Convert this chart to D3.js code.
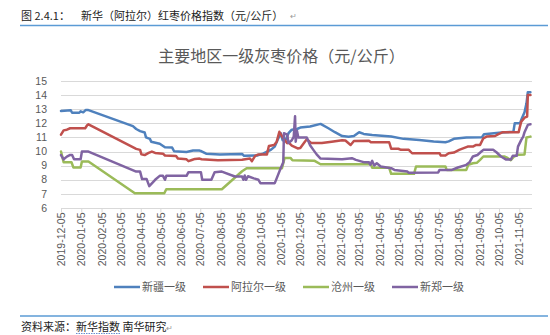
<!DOCTYPE html>
<html><head><meta charset="utf-8">
<script src="https://cdn.jsdelivr.net/npm/d3@7"></script>
<style>body{margin:0;background:#fff;} svg{display:block}</style>
</head><body><svg id="c" width="550" height="335"></svg>
<script>
const tickLabels = ["2019-12-05","2020-01-05","2020-02-05","2020-03-05","2020-04-05","2020-05-05","2020-06-05","2020-07-05","2020-08-05","2020-09-05","2020-10-05","2020-11-05","2020-12-05","2021-01-05","2021-02-05","2021-03-05","2021-04-05","2021-05-05","2021-06-05","2021-07-05","2021-08-05","2021-09-05","2021-10-05","2021-11-05"];
const yTicks = [6,7,8,9,10,11,12,13,14,15];
const seriesNames = ["新疆一级","阿拉尔一级","沧州一级","新郑一级"];
const seriesColors = ["#4F81BD","#C0504D","#9BBB59","#8064A2"];

const xinjiang = [
["2019-12-05",12.88],["2019-12-20",12.92],["2019-12-22",12.75],["2020-01-02",12.75],["2020-01-04",12.85],["2020-01-08",12.78],["2020-01-12",12.95],["2020-01-15",12.95],
["2020-03-24",11.8],["2020-03-29",11.6],["2020-04-04",11.45],["2020-04-11",11.35],["2020-04-13",11.0],["2020-04-19",10.9],["2020-04-21",10.7],["2020-05-04",10.55],["2020-05-12",10.3],["2020-05-23",10.28],["2020-05-26",10.02],["2020-06-14",9.97],["2020-06-24",10.07],["2020-07-04",10.07],["2020-07-07",10.02],["2020-07-14",9.85],["2020-08-04",9.8],["2020-09-07",9.83],["2020-09-10",9.7],["2020-09-30",9.72],["2020-10-09",9.85],["2020-10-20",10.1],["2020-10-27",10.35],["2020-11-01",10.9],["2020-11-05",11.3],["2020-11-08",10.8],["2020-11-13",10.85],["2020-11-17",11.3],["2020-11-22",11.55],["2020-11-30",11.6],["2020-12-05",11.7],["2020-12-20",11.77],
["2021-01-05",11.96],["2021-01-17",11.65],["2021-01-27",11.37],["2021-02-07",11.1],["2021-02-17",11.05],["2021-02-25",11.1],["2021-03-05",11.37],["2021-03-12",11.25],["2021-03-25",11.18],["2021-04-23",11.06],["2021-05-12",10.9],["2021-06-05",10.82],["2021-06-27",10.71],["2021-07-15",10.66],["2021-07-20",10.72],["2021-07-28",10.9],["2021-08-16",11.0],["2021-09-09",11.02],["2021-09-12",11.23],["2021-10-09",11.35],["2021-10-27",11.41],["2021-10-29",12.0],["2021-11-06",12.0],["2021-11-09",12.36],["2021-11-13",12.78],["2021-11-16",13.42],["2021-11-18",14.2],["2021-11-22",14.2]
];
const alaer = [
["2019-12-05",11.2],["2019-12-09",11.5],["2019-12-14",11.55],["2019-12-19",11.65],["2020-01-11",11.65],["2020-01-14",11.86],["2020-01-16",11.93],
["2020-03-29",10.19],["2020-04-04",10.12],["2020-04-06",9.8],["2020-04-11",9.75],["2020-04-17",9.9],["2020-04-22",10.0],["2020-04-27",9.9],["2020-05-09",9.85],["2020-05-12",9.72],["2020-05-29",9.68],["2020-06-01",9.5],["2020-06-14",9.45],["2020-06-17",9.32],["2020-06-22",9.4],["2020-06-27",9.48],["2020-07-04",9.5],["2020-07-07",9.46],["2020-08-01",9.38],["2020-09-07",9.42],["2020-09-19",9.5],["2020-09-22",9.32],["2020-09-27",9.7],["2020-10-02",9.8],["2020-10-15",9.8],["2020-10-18",10.4],["2020-10-26",10.47],["2020-10-30",10.7],["2020-11-03",11.4],["2020-11-09",10.94],["2020-11-15",10.6],["2020-11-17",10.65],["2020-11-22",10.42],["2020-12-01",10.22],["2020-12-05",10.25],["2020-12-12",10.7],["2020-12-15",10.87],["2020-12-22",10.6],
["2021-01-07",10.6],["2021-01-22",10.7],["2021-02-07",10.8],["2021-02-12",10.78],["2021-02-20",10.47],["2021-02-25",10.75],["2021-03-20",10.77],["2021-03-23",10.66],["2021-04-20",10.66],["2021-04-23",10.2],["2021-05-04",10.2],["2021-05-08",10.12],["2021-05-20",10.12],["2021-05-25",9.88],["2021-07-06",9.88],["2021-07-08",9.72],["2021-07-15",9.72],["2021-07-20",9.88],["2021-07-28",9.93],["2021-08-05",10.12],["2021-08-18",10.35],["2021-08-26",10.35],["2021-08-31",10.47],["2021-09-06",10.47],["2021-09-11",10.94],["2021-09-16",11.06],["2021-09-29",11.1],["2021-10-04",11.23],["2021-10-11",11.37],["2021-11-04",11.37],["2021-11-06",11.77],["2021-11-08",12.12],["2021-11-13",12.4],["2021-11-17",12.48],["2021-11-18",14.0],["2021-11-22",14.0]
];
const cangzhou = [
["2019-12-05",10.0],["2019-12-09",9.25],["2019-12-21",9.25],["2019-12-24",8.87],["2020-01-04",8.87],["2020-01-06",9.3],["2020-01-16",9.3],
["2020-03-27",7.05],["2020-05-11",7.05],["2020-05-14",7.33],["2020-08-07",7.33],["2020-09-07",8.6],["2020-09-14",8.82],["2020-11-07",8.82],["2020-11-11",9.55],["2020-11-20",9.55],["2020-11-23",9.38],["2020-12-27",9.34],
["2021-01-05",9.1],["2021-03-23",9.1],["2021-03-25",8.85],["2021-04-20",8.85],["2021-04-23",8.42],["2021-05-28",8.42],["2021-05-31",8.94],["2021-07-15",8.94],["2021-07-17",8.7],["2021-08-16",8.7],["2021-08-19",9.06],["2021-08-26",9.17],["2021-09-01",9.2],["2021-09-06",9.41],["2021-09-11",9.65],["2021-10-13",9.65],["2021-10-18",9.55],["2021-10-23",9.38],["2021-10-28",9.65],["2021-11-04",9.78],["2021-11-13",9.8],["2021-11-16",11.0],["2021-11-22",11.06]
];
const xinzheng = [
["2019-12-05",9.75],["2019-12-09",9.45],["2019-12-14",9.64],["2019-12-19",9.76],["2019-12-22",9.76],["2019-12-25",9.45],["2020-01-04",9.45],["2020-01-06",10.0],["2020-01-16",10.0],
["2020-03-29",8.58],["2020-04-04",8.58],["2020-04-07",8.05],["2020-04-14",8.05],["2020-04-18",7.55],["2020-04-22",7.75],["2020-04-27",8.0],["2020-05-04",8.28],["2020-05-09",8.28],["2020-05-12",8.0],["2020-05-14",8.28],["2020-06-14",8.28],["2020-06-17",8.54],["2020-07-06",8.54],["2020-07-08",8.0],["2020-07-22",8.0],["2020-07-27",8.54],["2020-08-07",8.58],["2020-08-27",8.23],["2020-09-07",8.23],["2020-09-09",8.0],["2020-09-11",8.3],["2020-09-13",8.0],["2020-09-16",8.25],["2020-09-25",8.1],["2020-10-02",8.0],["2020-10-05",7.76],["2020-10-27",7.76],["2020-11-01",8.35],["2020-11-05",8.82],["2020-11-09",9.25],["2020-11-10",11.3],["2020-11-15",11.2],["2020-11-17",10.6],["2020-11-22",10.8],["2020-11-25",11.06],["2020-11-27",12.5],["2020-11-28",10.7],["2020-11-30",11.45],["2020-12-02",10.99],["2020-12-15",10.99],["2020-12-20",10.45],["2020-12-25",10.12],["2020-12-30",9.8],
["2021-01-05",9.5],["2021-02-07",9.45],["2021-02-22",9.53],["2021-02-28",9.41],["2021-03-12",9.25],["2021-03-20",9.25],["2021-03-22",9.06],["2021-03-25",9.34],["2021-03-28",9.01],["2021-04-01",9.17],["2021-04-07",8.94],["2021-04-23",8.82],["2021-04-28",8.7],["2021-05-18",8.58],["2021-05-20",8.5],["2021-07-04",8.52],["2021-07-06",8.7],["2021-07-25",8.7],["2021-08-03",8.87],["2021-08-16",9.06],["2021-08-21",9.25],["2021-08-26",9.65],["2021-09-02",9.76],["2021-09-08",10.0],["2021-09-11",10.12],["2021-09-26",10.12],["2021-10-01",9.95],["2021-10-08",9.65],["2021-10-16",9.43],["2021-10-23",9.43],["2021-10-26",9.7],["2021-11-01",9.7],["2021-11-03",10.35],["2021-11-08",10.83],["2021-11-11",11.06],["2021-11-13",11.37],["2021-11-18",11.89],["2021-11-22",11.93]
];
const seriesData = [xinjiang, alaer, cangzhou, xinzheng];

const headerLabel = "图 2.4.1：";
const headerTitle = "新华（阿拉尔）红枣价格指数（元/公斤）";
const chartTitle = "主要地区一级灰枣价格（元/公斤）";
const sourcePrefix = "资料来源：";
const sourceMain = "新华指数";
const sourceRest = " 南华研究";

(function () {
const parse = d3.timeParse("%Y-%m-%d");
const cjk = "'Noto Sans CJK SC','Noto Sans',sans-serif";
const num = "'Liberation Sans',Arial,sans-serif";
const svg = d3.select("#c");

const plotLeft = 61, plotRight = 532, plotTop = 81, plotBottom = 208;
const tickDates = tickLabels.map(parse);
const x = d3.scaleTime().domain([tickDates[0], tickDates[tickDates.length-1]]).range([plotLeft, 519.3]);
const y = d3.scaleLinear().domain([6, 15]).range([plotBottom, plotTop]);

// header
svg.append("text").attr("x", 21).attr("y", 20).attr("font-family", cjk).attr("font-size", 11).attr("fill", "#222").attr("xml:space", "preserve").text(headerLabel);
svg.append("text").attr("x", 81).attr("y", 20).attr("font-family", cjk).attr("font-size", 11).attr("fill", "#222").text(headerTitle);
svg.append("text").attr("x", 290).attr("y", 19).attr("font-family", cjk).attr("font-size", 8).attr("fill", "#999").text("↵");
svg.append("line").attr("x1", 20).attr("x2", 548).attr("y1", 25.5).attr("y2", 25.5).attr("stroke", "#5B9BD5").attr("stroke-width", 1.5);

// title
svg.append("text").attr("x", 281.5).attr("y", 62).attr("text-anchor", "middle").attr("font-family", cjk).attr("font-size", 16).attr("fill", "#595959").text(chartTitle);

// grid
svg.append("g").selectAll("line").data(yTicks).join("line")
  .attr("x1", plotLeft).attr("x2", plotRight)
  .attr("y1", d => Math.round(y(d)) + 0.5).attr("y2", d => Math.round(y(d)) + 0.5)
  .attr("stroke", "#D9D9D9").attr("stroke-width", 1);

// y labels
svg.append("g").selectAll("text").data(yTicks).join("text")
  .attr("x", 47).attr("y", d => y(d)).attr("dy", "0.35em").attr("text-anchor", "end")
  .attr("font-family", num).attr("font-size", 10.5).attr("fill", "#595959").text(d => d);

// x axis
const xAxis = d3.axisBottom(x).tickValues(tickDates).tickFormat(d3.timeFormat("%Y-%m-%d")).tickSize(4).tickSizeOuter(0);
const gx = svg.append("g").attr("transform", `translate(0,${Math.round(plotBottom) + 0.5})`).call(xAxis);
gx.select(".domain").attr("stroke", "#D9D9D9").attr("d", `M${plotLeft},0H${plotRight}`);
gx.selectAll(".tick line").attr("stroke", "#D9D9D9");
gx.selectAll(".tick text")
  .attr("transform", "rotate(-90)").attr("text-anchor", "end")
  .attr("x", -4).attr("y", 0).attr("dy", "0.35em")
  .attr("font-family", num).attr("font-size", 10.5).attr("fill", "#595959");

// lines
const line = d3.line().x(d => x(parse(d[0]))).y(d => y(d[1]));
svg.append("g").selectAll("path").data(seriesData).join("path")
  .attr("d", line).attr("fill", "none")
  .attr("stroke", (d, i) => seriesColors[i]).attr("stroke-width", 2.5)
  .attr("stroke-linejoin", "round").attr("stroke-linecap", "round");

// legend
const lg = svg.append("g");
let lx = 114;
seriesNames.forEach((name, i) => {
  lg.append("line").attr("x1", lx).attr("x2", lx + 26).attr("y1", 287).attr("y2", 287)
    .attr("stroke", seriesColors[i]).attr("stroke-width", 2.5);
  const t = lg.append("text").attr("x", lx + 28).attr("y", 287).attr("dy", "0.35em")
    .attr("font-family", cjk).attr("font-size", 11).attr("fill", "#595959").text(name);
  lx += 28 + t.node().getComputedTextLength() + 17;
});

// footer
svg.append("line").attr("x1", 20).attr("x2", 548).attr("y1", 316).attr("y2", 316).attr("stroke", "#5B9BD5").attr("stroke-width", 1.5);
const ft = svg.append("text").attr("x", 21).attr("y", 331).attr("font-family", cjk).attr("font-size", 11).attr("fill", "#222");
const preSpan = ft.append("tspan").text(sourcePrefix);
const mainSpan = ft.append("tspan").text(sourceMain);
ft.append("tspan").text(sourceRest);
ft.append("tspan").attr("font-size", 8).attr("fill", "#999").text("↵");
const ux0 = 21 + preSpan.node().getComputedTextLength();
const ux1 = ux0 + mainSpan.node().getComputedTextLength();
svg.append("line").attr("x1", ux0).attr("x2", ux1).attr("y1", 333.5).attr("y2", 333.5)
  .attr("stroke", "#4472C4").attr("stroke-width", 0.8).attr("stroke-dasharray", "1.5,1");
})();
</script></body></html>
